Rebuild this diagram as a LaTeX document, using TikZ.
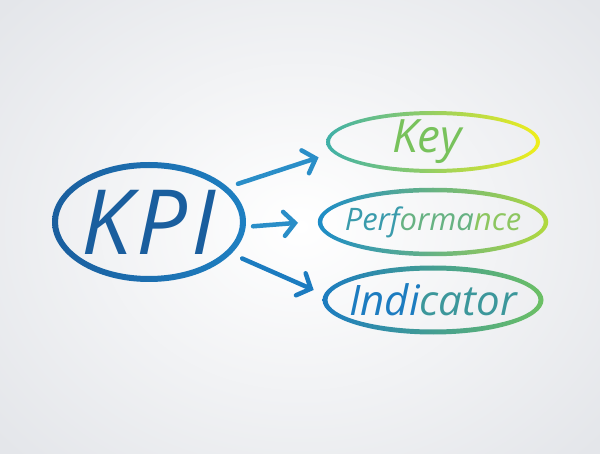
\documentclass[tikz,border=0pt]{standalone}
\usepackage{fontspec}
\setmainfont{Open Sans}
\usetikzlibrary{arrows.meta,shapes.geometric,positioning,calc}

\definecolor{kpiblue}{HTML}{1A5E9E}
\definecolor{kpiblue2}{HTML}{1E80C2}
\definecolor{arrowblue}{HTML}{2A8EC8}
\definecolor{keyleft}{HTML}{3FB0A8}
\definecolor{keyright}{HTML}{F0EE1A}
\definecolor{keytext}{HTML}{78C25C}
\definecolor{perfleft}{HTML}{1C8CC8}
\definecolor{perfright}{HTML}{B2D93E}
\definecolor{indleft}{HTML}{1C7CC0}
\definecolor{indright}{HTML}{6CC064}
\definecolor{paper}{HTML}{E4E6EA}

\begin{document}
\begin{tikzpicture}[x=1pt,y=1pt,
    word/.style={ellipse,inner sep=0pt,font=\itshape},
    pointer/.style={line width=4.5pt,line cap=round,line join=round,
        -{Straight Barb[length=11pt,width=24pt,line cap=round]}}]
    \useasboundingbox (0,0) rectangle (600,453);
    \begin{scope}
        \clip (0,0) rectangle (600,453);
        \shade[inner color=white,outer color=paper] (-100,-100) rectangle (700,553);
    \end{scope}

    % the words
    \node[word,minimum width=188,minimum height=114,text=kpiblue,
        font=\itshape\fontsize{90}{90}\selectfont] (kpi) at (149,231) {K\kern5pt P\kern4pt I};
    \node[word,minimum width=210,minimum height=58,text=keytext,
        font=\itshape\fontsize{46}{46}\selectfont] (key) at (433,311) {\hspace*{-12pt}Key};
    \node[word,minimum width=226,minimum height=64,
        font=\itshape\fontsize{31}{31}\selectfont] (perf) at (433,231)
        {\textcolor{perfleft!80!perfright}{Perf}\textcolor{perfleft!50!perfright}{orma}\textcolor{perfleft!25!perfright}{nce}};
    \node[word,minimum width=216,minimum height=64,
        font=\itshape\fontsize{42}{42}\selectfont] (ind) at (433,153)
        {\textcolor{indleft}{Indi}\textcolor{indleft!60!indright}{cator}};

    % rings round the words
    \foreach \n/\rx/\ry/\w/\cl/\cr in {kpi/94/57/6/kpiblue/kpiblue2,
        key/105/29/4/keyleft/keyright, perf/113/32/4.5/perfleft/perfright,
        ind/108/32/5/indleft/indright}
    {
        \shade[even odd rule,left color=\cl,right color=\cr]
            (\n.center) ellipse[x radius=\rx+\w/2,y radius=\ry+\w/2]
            (\n.center) ellipse[x radius=\rx-\w/2,y radius=\ry-\w/2];
    }

    % arrows
    \draw[pointer,arrowblue,shorten <=13pt,shorten >=16pt] (kpi.24) -- (key.186);
    \draw[pointer,arrowblue,shorten <=9pt,shorten >=10pt] (kpi.-3) -- (perf.180);
    \draw[pointer,indleft,shorten <=14pt,shorten >=5pt] (kpi.-21) -- (ind.176);
\end{tikzpicture}
\end{document}
